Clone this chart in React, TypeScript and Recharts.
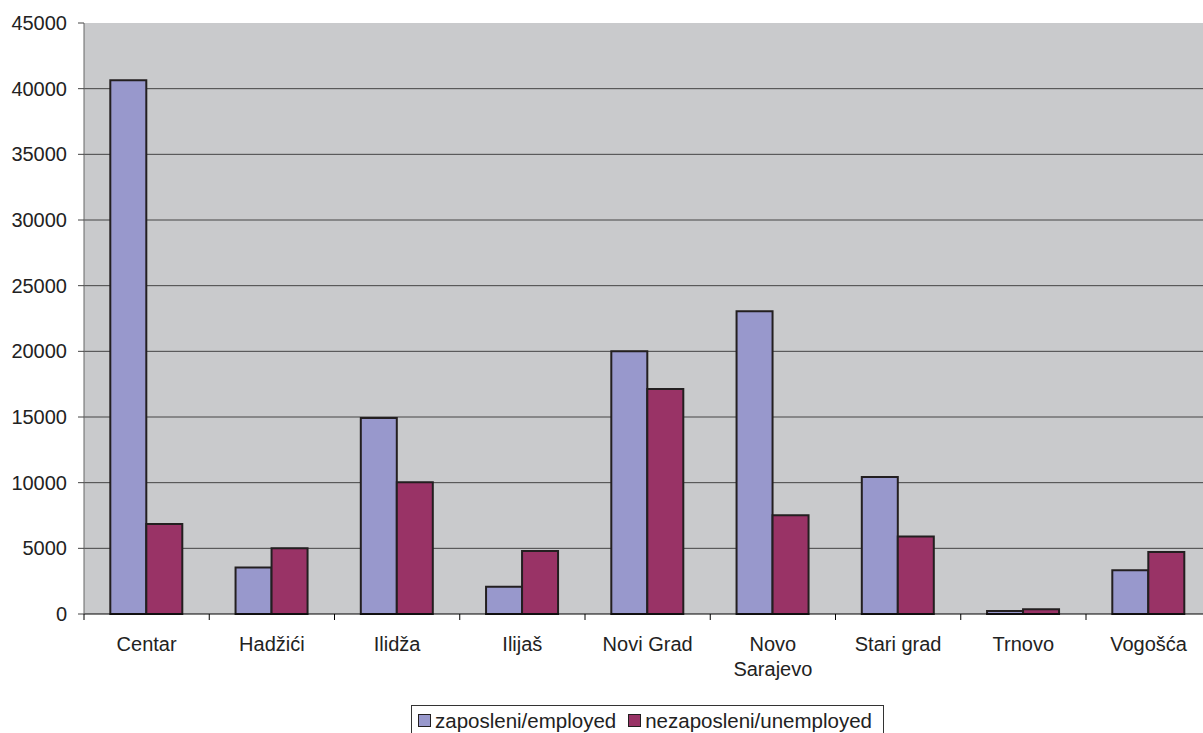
import { BarChart, Bar, XAxis, YAxis, CartesianGrid } from "recharts";

const categories = [
  "Centar",
  "Hadžići",
  "Ilidža",
  "Ilijaš",
  "Novi Grad",
  "Novo Sarajevo",
  "Stari grad",
  "Trnovo",
  "Vogošća",
];
const employed = [40650, 3550, 14920, 2080, 20000, 23050, 10430, 230, 3340];
const unemployed = [6850, 5000, 10030, 4800, 17130, 7520, 5910, 360, 4720];
const yTicks = [0, 5000, 10000, 15000, 20000, 25000, 30000, 35000, 40000, 45000];
const seriesNames = ["zaposleni/employed", "nezaposleni/unemployed"];

const colors = ["#9898cc", "#993366"];
const font = "'Liberation Sans', Arial, sans-serif";

const data = categories.map((c, i) => ({
  name: c,
  employed: employed[i],
  unemployed: unemployed[i],
}));

// long labels go on two lines, like the original
const splitLabel = (s: string) => (s.length > 12 ? s.split(" ") : [s]);

// category label centred, plus a tick mark on the left boundary of the band
const CategoryTick = (props: any) => {
  const { x, y, payload } = props;
  const half = payload && payload.offset ? payload.offset : 62.6;
  const lines = splitLabel(String(payload.value));
  return (
    <g>
      <line x1={x - half} x2={x - half} y1={y - 8} y2={y - 2} stroke="#000" strokeWidth={1} />
      <text x={x} y={y + 29} textAnchor="middle" fontSize={20} fontFamily={font} fill="#222">
        {lines.map((l, i) => (
          <tspan key={i} x={x} dy={i === 0 ? 0 : 24.5}>
            {l}
          </tspan>
        ))}
      </text>
    </g>
  );
};

const LegendBox = () => (
  <div
    style={{
      position: "absolute",
      left: 411,
      top: 705,
      width: 473,
      boxSizing: "border-box",
      border: "1px solid #333",
      padding: "3px 6px 10px 6px",
      display: "flex",
      fontFamily: font,
      fontSize: 20.5,
      lineHeight: "23px",
      color: "#222",
      background: "#fff",
    }}
  >
    {seriesNames.map((n, i) => (
      <div key={n} style={{ display: "flex", alignItems: "center", marginRight: i === 0 ? 12 : 0 }}>
        <span
          style={{
            display: "inline-block",
            width: 11,
            height: 11,
            background: colors[i],
            border: "1.5px solid #231f20",
            marginRight: 4,
          }}
        />
        <span>{n}</span>
      </div>
    ))}
  </div>
);

export default function App() {
  return (
    <div
      style={{
        position: "fixed",
        left: 0,
        top: 0,
        width: 1203,
        height: 733,
        overflow: "hidden",
        background: "#fff",
      }}
    >
      <BarChart
        width={1215}
        height={733}
        data={data}
        margin={{ top: 23, right: 3.75, left: 0, bottom: 79 }}
        barCategoryGap="21%"
        barGap={0}
      >
        <CartesianGrid
          vertical={false}
          horizontalValues={[5000, 10000, 15000, 20000, 25000, 30000, 35000, 40000]}
          fill="#c9cacc"
          fillOpacity={1}
          stroke="#444"
          strokeWidth={1}
        />
        <XAxis
          dataKey="name"
          height={40}
          tickLine={false}
          axisLine={{ stroke: "#000", strokeWidth: 1 }}
          tick={<CategoryTick />}
          interval={0}
        />
        <YAxis
          width={84}
          domain={[0, 45000]}
          ticks={yTicks}
          interval={0}
          tickSize={6}
          tickMargin={11}
          axisLine={{ stroke: "#666", strokeWidth: 1 }}
          tickLine={{ stroke: "#444" }}
          tick={{ fontSize: 20, fontFamily: font, fill: "#222" }}
        />
        <Bar
          dataKey="employed"
          name={seriesNames[0]}
          fill={colors[0]}
          stroke="#231f20"
          strokeWidth={2}
          isAnimationActive={false}
        />
        <Bar
          dataKey="unemployed"
          name={seriesNames[1]}
          fill={colors[1]}
          stroke="#231f20"
          strokeWidth={2}
          isAnimationActive={false}
        />
      </BarChart>
      <LegendBox />
    </div>
  );
}
